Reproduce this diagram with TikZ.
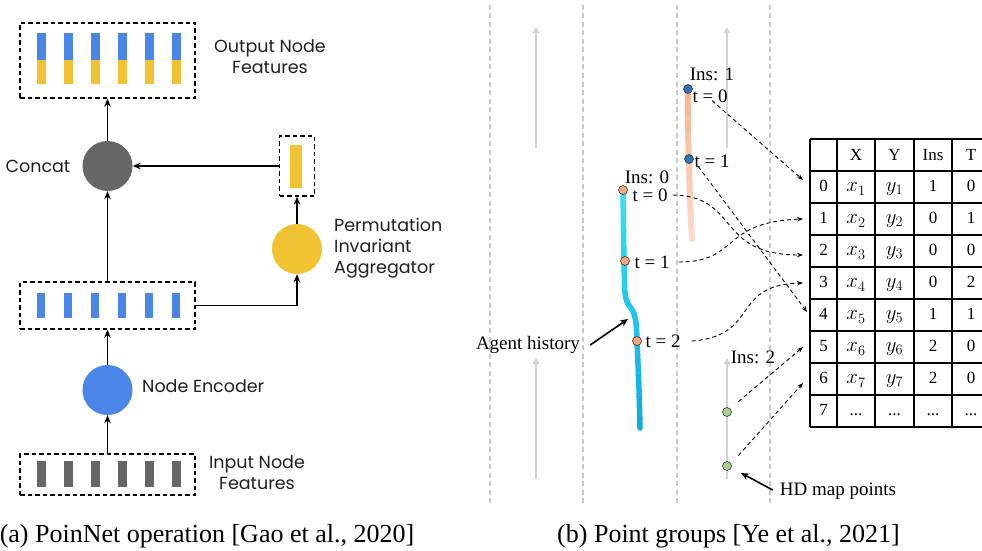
\documentclass[tikz,border=0pt]{standalone}
\usepackage{fontspec}
\setmainfont{Liberation Serif}
\newfontfamily\geo{Poppins}
\usetikzlibrary{arrows.meta,calc}
\definecolor{fblue}{HTML}{4A86E8}
\definecolor{fyellow}{HTML}{F1C232}
\definecolor{fgray}{HTML}{666666}
\definecolor{lanegray}{HTML}{D3D3D3}
\definecolor{laneline}{HTML}{C8C8C8}
\definecolor{ptorange}{HTML}{F4A77A}
\definecolor{ptblue}{HTML}{2E75B6}
\definecolor{ptgreen}{HTML}{A9D18E}
\definecolor{trajA}{HTML}{34E2F2}
\definecolor{trajB}{HTML}{0FAAE4}
\definecolor{orA}{HTML}{F4B792}
\definecolor{orB}{HTML}{FADBC8}
\begin{document}
\begin{tikzpicture}[x=1pt,y=-1pt,
  lbl/.style={font=\geo\fontsize{17.5}{21}\selectfont, text=black!88, inner sep=1pt},
  dbox/.style={draw, line width=1.3pt, dash pattern=on 4.5pt off 3pt, inner sep=0pt},
  arr/.style={-{Stealth[length=8pt,width=6.5pt]}, line width=1.4pt},
  bigdot/.style={circle, minimum size=50pt, inner sep=0pt},
  slbl/.style={font=\fontsize{19}{22}\selectfont, inner sep=1pt},
  tcell/.style={font=\fontsize{17}{20}\selectfont, inner sep=0pt},
  mcell/.style={font=\fontsize{21}{24}\selectfont, inner sep=0pt},
  captext/.style={font=\fontsize{26}{30}\selectfont, inner sep=0pt},
  lane/.style={laneline, line width=1.4pt, dash pattern=on 5pt off 3.5pt},
  lanearr/.style={lanegray, line width=2.2pt, -{Triangle[length=6pt,width=6pt]}},
  pt/.style={circle, draw=black!80, line width=0.6pt, minimum size=9pt, inner sep=0pt},
  darr/.style={line width=0.9pt, dash pattern=on 4pt off 3pt, -{Stealth[length=6pt,width=4.5pt]}},
  sarr/.style={line width=1.6pt, -{Stealth[length=8pt,width=7pt]}},
  tline/.style={line width=1.2pt, black}
]
\useasboundingbox (0,0) rectangle (982,551);

% ---------------- (a) ----------------
\node[dbox, minimum width=175pt, minimum height=75pt] (outbox) at (107.5,60.5) {};
\foreach \i in {0,...,5} {
  \fill[fblue] ({37+27*\i},33) rectangle ++(9,27);
  \fill[fyellow] ({37+27*\i},60) rectangle ++(9,24);
}
\node[dbox, minimum width=175pt, minimum height=47pt] (midbox) at (107.5,305.5) {};
\foreach \i in {0,...,5} \fill[fblue] ({37+27*\i},293) rectangle ++(8,25);
\node[dbox, minimum width=175pt, minimum height=41pt] (inbox) at (107.5,474.5) {};
\foreach \i in {0,...,5} \fill[fgray] ({37+27*\i},461) rectangle ++(9,26);
\node[dbox, minimum width=35pt, minimum height=60pt] (aggbox) at (297,166) {};
\fill[fyellow] (290,145) rectangle (302,188);

\node[bigdot, fill=fgray] (concat) at (107.5,166) {};
\node[bigdot, fill=fyellow] (agg) at (297,249) {};
\node[bigdot, fill=fblue] (enc) at (107.5,390) {};

\draw[arr] (concat) -- (outbox);
\draw[arr] (aggbox) -- (concat);
\draw[arr] (agg) -- (aggbox);
\draw[arr] (midbox.east) -| (agg.south);
\draw[arr] (midbox) -- (concat);
\draw[arr] (enc) -- (midbox);
\draw[arr] (inbox) -- (enc);

\node[lbl, align=center] (outlbl) at (270,57) {Output Node\\Features};
\node[lbl] (conlbl) at (38,166) {Concat};
\node[lbl, align=left, anchor=west] (agglbl) at (333,248) {Permutation\\Invariant\\Aggregator};
\node[lbl, anchor=west] (enclbl) at (141,386) {Node Encoder};
\node[lbl, align=center] (inlbl) at (257,473) {Input Node\\Features};

\node[captext] (capa) at (207,536) {(a) PoinNet operation [Gao et al., 2020]};

% ---------------- (b) ----------------
\foreach \xx in {490,583,677,770} \draw[lane] (\xx,5) -- (\xx,503);
\draw[lanearr] (536,148) -- (536,27);
\draw[lanearr] (727,148) -- (727,27);
\draw[lanearr] (536,479) -- (536,358);
\draw[lanearr] (727,479) -- (727,358);

% agent 1 trajectory (orange)
\foreach \i in {0,...,9} {
  \pgfmathtruncatemacro\pct{100-\i*11}
  \begin{scope}
    \clip (670,{84+\i*16}) rectangle (710,{84+(\i+1)*16+0.5});
    \draw[orA!\pct!orB, line width=6pt, line cap=round]
      plot[smooth, tension=0.6] coordinates {(688,89) (688,130) (689,160) (690,200) (692,239)};
  \end{scope}
}
% agent 0 trajectory (cyan)
\foreach \i in {0,...,11} {
  \pgfmathtruncatemacro\pct{100-\i*9}
  \begin{scope}
    \clip (600,{186+\i*21}) rectangle (670,{186+(\i+1)*21+0.5});
    \draw[trajA!\pct!trajB, line width=5.5pt, line cap=round]
      plot[smooth, tension=0.5] coordinates {(623,190) (624,262) (625,293) (628,304) (633,311) (636,323) (637,341) (639,390) (640,428)};
  \end{scope}
}

\node[pt, fill=ptorange] (a0) at (623,190) {};
\node[pt, fill=ptorange] (a1) at (625,261) {};
\node[pt, fill=ptorange] (a2) at (637,341) {};
\node[pt, fill=ptblue] (b0) at (688,89) {};
\node[pt, fill=ptblue] (b1) at (689,159) {};
\node[pt, fill=ptgreen] (g1) at (727,412) {};
\node[pt, fill=ptgreen] (g2) at (727,466) {};

\node[slbl] (ins0) at (647,177) {Ins: 0};
\node[slbl] (l00) at (650,195) {t = 0};
\node[slbl] (l01) at (652,262) {t = 1};
\node[slbl] (l02) at (663,341) {t = 2};
\node[slbl] (ins1) at (712,74) {Ins: 1};
\node[slbl] (l10) at (710,96) {t = 0};
\node[slbl] (l11) at (712,161) {t = 1};
\node[slbl] (ins2) at (753,357) {Ins: 2};
\node[slbl] (agent) at (528,345) {Agent history};
\node[slbl] (hd) at (838,491) {HD map points};

\coordinate (ah) at (628,319);
\coordinate (hh) at (741,473);
\draw[sarr] ([xshift=9pt]agent.east) -- (ah);
\draw[sarr] ([shift={(-6,-1)}]hd.west) -- (hh);

% table
\foreach \k in {0,...,9} \draw[tline] (810,{139+32*\k}) -- (995,{139+32*\k});
\foreach \xx in {810,837,875,914,952,995} \draw[tline] (\xx,139) -- (\xx,427);
\node[tcell] (hX) at (856,155) {X};
\node[tcell] (hY) at (894.5,155) {Y};
\node[tcell] (hI) at (933,155) {Ins};
\node[tcell] (hT) at (971,155) {T};
\foreach \r/\ins/\t in {0/1/0,1/0/1,2/0/0,3/0/2,4/1/1,5/2/0,6/2/0} {
  \pgfmathtruncatemacro\k{\r+1}
  \node[tcell] (i\r) at (823.5,{186+32*\r}) {\r};
  \node[mcell] (x\r) at (856,{189+32*\r}) {$x_{\k}$};
  \node[mcell] (y\r) at (894.5,{189+32*\r}) {$y_{\k}$};
  \node[tcell] (n\r) at (933,{186+32*\r}) {\ins};
  \node[tcell] (t\r) at (971,{186+32*\r}) {\t};
}
\node[tcell] (i7) at (823.5,410) {7};
\node[tcell] (x7) at (856,415) {...};
\node[tcell] (y7) at (894.5,415) {...};
\node[tcell] (n7) at (933,415) {...};
\node[tcell] (t7) at (971,415) {...};

\coordinate (e0) at (803,180);
\coordinate (e1) at (803,219);
\coordinate (e2) at (803,255);
\coordinate (e3) at (803,283);
\coordinate (e4) at (807,312);
\coordinate (e5) at (803,347);
\coordinate (e6) at (803,383);

\draw[darr] ([shift={(2,-3)}]l10.south) -- (e0);
\draw[darr] ([shift={(5,-2)}]l11.south west) -- (e4);
\draw[darr] ([xshift=4pt]l00.east) .. controls (740,196) and (715,255) .. (e2);
\draw[darr] ([xshift=8pt]l01.east) .. controls (740,262) and (720,222) .. (e1);
\draw[darr] ([xshift=10pt]l02.east) .. controls (760,336) and (730,285) .. (e3);
\draw[darr] ([shift={(8,-7)}]g1.north east) -- (e5);
\draw[darr] ([shift={(8,-7)}]g2.north east) -- (e6);

\node[captext] (capb) at (728.5,536) {(b) Point groups [Ye et al., 2021]};
\end{tikzpicture}
\end{document}
